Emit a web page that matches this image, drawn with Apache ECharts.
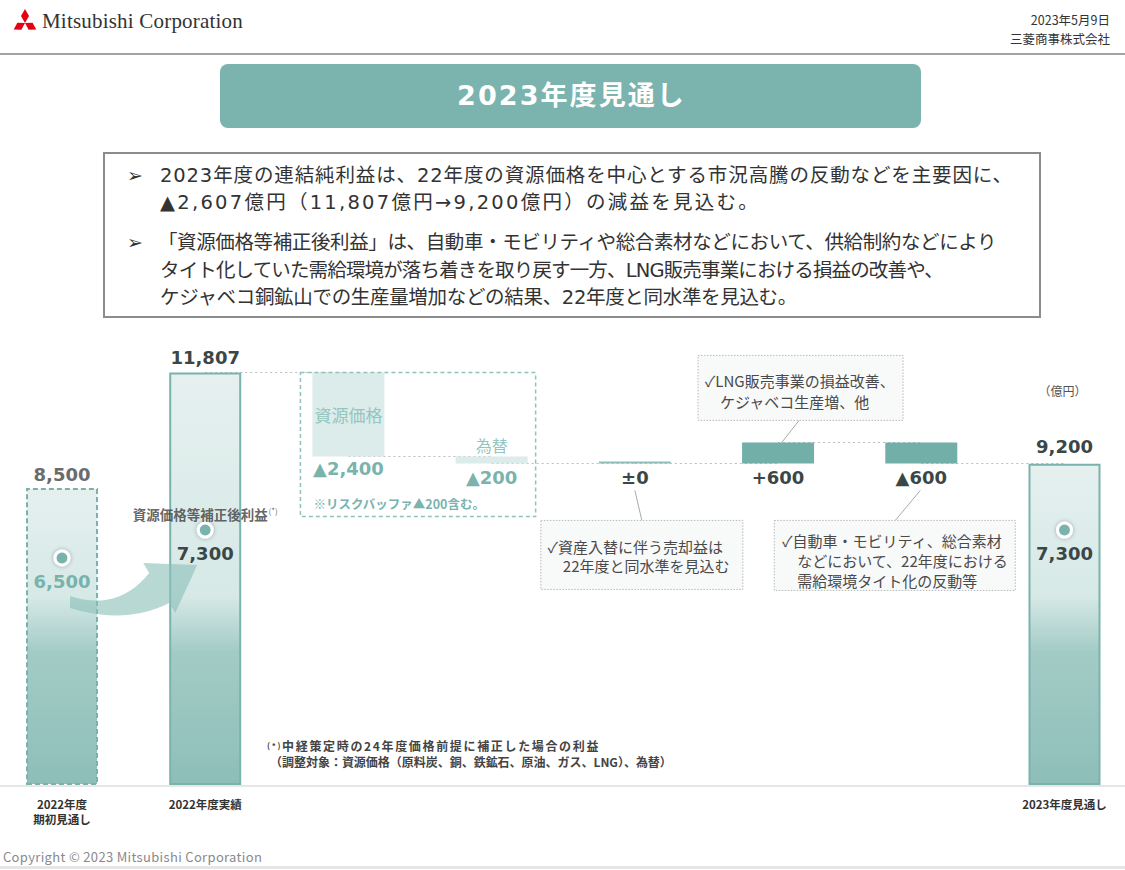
<!DOCTYPE html>
<html>
<head>
<meta charset="utf-8">
<script src="https://cdn.jsdelivr.net/npm/echarts@6/dist/echarts.min.js"></script>
<style>
  html, body { margin: 0; padding: 0; background: #fff; }
  body { width: 1125px; height: 870px; position: relative; overflow: hidden;
         font-family: "Noto Sans CJK JP", "DejaVu Sans", sans-serif; color: #333; }
  #main { position: absolute; left: 0; top: 0; width: 1125px; height: 870px; }
  .abs { position: absolute; white-space: nowrap; }
  .line { font-family: "DejaVu Sans", "Noto Sans CJK JP", sans-serif; font-size: 19.5px; line-height: 27px; color: #333; }
  .bullet { font-family: "DejaVu Sans", sans-serif; font-size: 19px; line-height: 27px; color: #333; }
</style>
</head>
<body>
<div id="main"></div>

<!-- header -->
<svg class="abs" style="left:0;top:0" width="40" height="40">
  <polygon points="25,9 29,16 25,23 21,16" fill="#e60012"/>
  <polygon points="25,23 21.4,29.7 13.7,29.5 17.4,22.8" fill="#e60012"/>
  <polygon points="25,23 28.6,29.7 36.3,29.5 32.6,22.8" fill="#e60012"/>
</svg>
<div class="abs" data-w="201" style="left:42px;top:9px;font-family:'Liberation Serif',serif;font-size:21px;color:#333">Mitsubishi Corporation</div>
<div class="abs" style="right:15px;top:10px;font-size:12.5px;line-height:19px;text-align:right;color:#333">2023年5月9日<br>三菱商事株式会社</div>
<div class="abs" style="left:0;top:53px;width:1125px;height:2px;background:#a3a3a3"></div>

<!-- title -->
<div class="abs" style="left:220px;top:64px;width:701px;height:64px;border-radius:8px;background:#7bb3ae"></div>
<div class="abs" data-w="229" style="left:457px;top:78px;font-family:'DejaVu Sans','Noto Sans CJK JP',sans-serif;font-size:27px;line-height:36px;font-weight:bold;color:#fff">2023年度見通し</div>

<!-- summary box -->
<div class="abs" style="left:103px;top:152px;width:934px;height:162px;border:2px solid #8c8c8c"></div>
<div class="abs bullet" style="left:127px;top:162px">➢</div>
<div class="abs line" data-w="853" style="left:160px;top:162px">2023年度の連結純利益は、22年度の資源価格を中心とする市況高騰の反動などを主要因に、</div>
<div class="abs line" data-w="600" style="left:160px;top:189px">▲2,607億円（11,807億円→9,200億円）の減益を見込む。</div>
<div class="abs bullet" style="left:127px;top:229px">➢</div>
<div class="abs line" data-w="838" style="left:158px;top:229px">「資源価格等補正後利益」は、自動車・モビリティや総合素材などにおいて、供給制約などにより</div>
<div class="abs line" data-w="783" style="left:160px;top:257px">タイト化していた需給環境が落ち着きを取り戻す一方、LNG販売事業における損益の改善や、</div>
<div class="abs line" data-w="637" style="left:160px;top:284px">ケジャベコ銅鉱山での生産量増加などの結果、22年度と同水準を見込む。</div>

<!-- footnote -->
<div class="abs" data-w="333" style="left:267px;top:738px;font-size:12px;line-height:16px;font-weight:bold;color:#444"><span style="font-size:8px;vertical-align:top">(*)</span>中経策定時の24年度価格前提に補正した場合の利益</div>
<div class="abs" data-w="402" style="left:270px;top:754px;font-size:12px;line-height:16px;font-weight:bold;color:#444">（調整対象：資源価格（原料炭、銅、鉄鉱石、原油、ガス、LNG）、為替）</div>

<!-- footer -->
<div class="abs" data-w="259" style="left:3px;top:848px;font-size:13px;line-height:18px;color:#8a8a8a">Copyright © 2023 Mitsubishi Corporation</div>
<div class="abs" style="left:0;top:866px;width:1125px;height:3px;background:#e6e6e6"></div>

<script>
// stretch html text lines to the widths measured on the slide
document.querySelectorAll('[data-w]').forEach(function (el) {
  var target = +el.getAttribute('data-w');
  var w = el.getBoundingClientRect().width;
  var n = el.textContent.length;
  el.style.letterSpacing = ((target - w) / n).toFixed(2) + 'px';
});

// Waterfall values (億円)
var categories = ['2022年度\n期初見通し', '2022年度実績', '資源価格', '為替', '資産入替', 'LNG・銅', '需給反動', '2023年度見通し'];
var axisTexts = ['2022年度\n期初見通し', '2022年度実績', '', '', '', '', '', '2023年度見通し'];
var initialForecast = 8500;
var actual2022 = 11807;
var deltas = [-2400, -200, 0, 600, -600];
var outlook2023 = 9200;
var adjustedProfit = [6500, 7300, '-', '-', '-', '-', '-', 7300];

var TEAL = '#7ab3ae';
var INK = '#3b4746';
var NUM_FONT = '"DejaVu Sans", sans-serif';
var JP_FONT = '"Noto Sans CJK JP", sans-serif';

// running levels for the floating bars
var baseData = [0, 0];
var barData = [initialForecast, actual2022];
var levels = [initialForecast, actual2022];
var level = actual2022;
deltas.forEach(function (d) {
  var next = level + d;
  baseData.push(Math.min(level, next));
  barData.push(Math.abs(d));
  levels.push(next);
  level = next;
});
baseData.push(0);
barData.push(outlook2023);
levels.push(outlook2023);

function fmt(v) { return v.toLocaleString('en-US'); }
function deltaText(d) { return d < 0 ? '▲' + fmt(-d) : (d > 0 ? '+' + fmt(d) : '±0'); }

function fillFor(v) {
  return {
    type: 'linear', x: 0, y: 0, x2: 0, y2: 1,
    colorStops: [
      { offset: 0, color: '#e5f0ef' },
      { offset: Math.max(0, (v - 5400) / v), color: '#d6e9e6' },
      { offset: (v - 3800) / v, color: '#a3cbc6' },
      { offset: 1, color: '#8ebeb8' }
    ]
  };
}

var totalLabel = { show: true, position: 'top', fontFamily: NUM_FONT, fontWeight: 'bold', fontSize: 18,
  formatter: function (p) { return fmt(p.value); } };

var barItems = barData.map(function (v, i) {
  if (i === 0) {
    return { value: v,
      itemStyle: { color: fillFor(v), borderColor: TEAL, borderWidth: 2, borderType: [5, 3] },
      label: Object.assign({}, totalLabel, { color: '#6b6b6b', distance: 5 }) };
  }
  if (i === 1 || i === barData.length - 1) {
    return { value: v,
      itemStyle: { color: fillFor(v), borderColor: TEAL, borderWidth: 2 },
      label: Object.assign({}, totalLabel, { color: INK, distance: i === 1 ? 6 : 8 }) };
  }
  if (i === 2) {
    return { value: v, itemStyle: { color: '#dcecea' },
      label: { show: true, position: 'inside', formatter: categories[i], color: '#94c5bf',
        fontFamily: JP_FONT, fontSize: 17 } };
  }
  if (i === 3) {
    return { value: v, itemStyle: { color: '#dcecea' },
      label: { show: true, position: 'top', distance: 3, formatter: categories[i], color: '#94c5bf',
        fontFamily: JP_FONT, fontSize: 16 } };
  }
  return { value: v, itemStyle: { color: i === 4 ? '#8cbfb9' : '#72afa8' } };
});

var baseItems = baseData.map(function (v, i) {
  var item = { value: v };
  if (i >= 2 && i < 2 + deltas.length) {
    item.label = { show: true, position: 'insideTop', distance: i === 2 ? 3 : 5,
      formatter: deltaText(deltas[i - 2]), fontFamily: NUM_FONT, fontWeight: 'bold', fontSize: 18,
      color: i < 4 ? TEAL : INK };
  }
  return item;
});

var connectors = [];
for (var i = 1; i < categories.length - 1; i++) {
  connectors.push([{ coord: [categories[i], levels[i]] }, { coord: [categories[i + 1], levels[i]] }]);
}

var dotItems = adjustedProfit.map(function (v, i) {
  if (v === '-') return '-';
  return { value: v, label: { color: i === 0 ? '#78b2ac' : INK } };
});

var chart = echarts.init(document.getElementById('main'), null, { renderer: 'svg' });

var option = {
  animation: false,
  grid: { left: 62, right: 60.5, top: 296, bottom: 85 },
  xAxis: {
    type: 'category', data: categories, boundaryGap: false,
    axisLine: { show: false }, axisTick: { show: false }, splitLine: { show: false },
    axisLabel: { interval: 0, margin: 11, fontFamily: JP_FONT, fontSize: 11.5, fontWeight: 'bold',
      color: '#333', lineHeight: 15,
      formatter: function (v, idx) { return axisTexts[idx]; } }
  },
  yAxis: { type: 'value', min: 0, max: 14000, show: false, splitLine: { show: false } },
  series: [
    { name: 'base', type: 'bar', stack: 'wf', barWidth: 72, z: 2,
      itemStyle: { color: 'transparent' }, data: baseItems },
    { name: 'value', type: 'bar', stack: 'wf', barWidth: 72, barMinHeight: 2, z: 2,
      data: barItems,
      markLine: { silent: true, symbol: 'none', z: 1, label: { show: false },
        lineStyle: { color: '#bdbdbd', type: [2, 3], width: 1 }, data: connectors } },
    { name: '資源価格等補正後利益', type: 'scatter', z: 5, symbolSize: 14, data: dotItems,
      itemStyle: { color: TEAL, borderColor: '#fff', borderWidth: 3, shadowBlur: 4,
        shadowColor: 'rgba(0,0,0,0.3)', opacity: 1 },
      label: { show: true, position: 'bottom', distance: 6, fontFamily: NUM_FONT, fontWeight: 'bold',
        fontSize: 18, formatter: function (p) { return fmt(p.value); } } },
    { name: 'tag', type: 'scatter', z: 5, symbolSize: 1, silent: true,
      itemStyle: { color: 'transparent' },
      data: adjustedProfit.map(function (v, i) { return i === 1 ? v : '-'; }),
      label: { show: true, position: 'top', distance: 8,
        formatter: '{a|資源価格等補正後利益}{b|(*)}',
        rich: { a: { fontFamily: JP_FONT, fontSize: 13.5, fontWeight: 'bold', color: '#3e3e3e' },
                b: { fontFamily: JP_FONT, fontSize: 8, color: '#3e3e3e', verticalAlign: 'top', padding: [0, 0, 7, 1] } } } }
  ]
};

chart.setOption(option);

function px(i, v) { return chart.convertToPixel({ gridIndex: 0 }, [i, v]); }

// curved arrow from the first dot towards the second bar
function quad(a, c, b, steps) {
  var out = [];
  for (var k = 0; k <= steps; k++) {
    var t = k / steps, u = 1 - t;
    out.push([u * u * a[0] + 2 * u * t * c[0] + t * t * b[0], u * u * a[1] + 2 * u * t * c[1] + t * t * b[1]]);
  }
  return out;
}
var p0 = px(0, adjustedProfit[0]), p1 = px(1, adjustedProfit[1]);
var arrowPts = quad([p0[0] + 8, p0[1] + 38], [p0[0] + 56, p0[1] + 54], [p1[0] - 56, p1[1] + 43], 14)
  .concat([[p1[0] - 62, p1[1] + 33], [p1[0] - 8, p1[1] + 35], [p1[0] - 30, p1[1] + 83]])
  .concat(quad([p1[0] - 36, p1[1] + 73], [p0[0] + 63, p0[1] + 67], [p0[0] + 8, p0[1] + 50], 14));

var topY = px(2, actual2022)[1];
var bx0 = px(2, 0)[0] - 48, bx1 = px(3, 0)[0] + 44;
var ly = px(4, levels[4])[1];
var x4 = px(4, 0)[0], x5 = px(5, 0)[0], x6 = px(6, 0)[0], x7 = px(7, 0)[0];
var baseY = px(0, 0)[1];

var noteBox = { fill: '#f8f9f9', stroke: '#b8b8b8', lineWidth: 1, lineDash: [1.5, 1.5] };
var noteFont = '15px "Noto Sans CJK JP", "DejaVu Sans", sans-serif';
var leader = { stroke: '#aaaaaa', lineWidth: 1 };

chart.setOption({
  graphic: [
    { type: 'line', z: 0, shape: { x1: 0, y1: baseY + 1, x2: 1125, y2: baseY + 1 },
      style: { stroke: '#e6e6e6', lineWidth: 2 } },
    { type: 'polygon', z: 10, shape: { points: arrowPts }, style: { fill: 'rgba(140,192,186,0.62)' } },
    { type: 'rect', z: 3, shape: { x: bx0, y: topY, width: bx1 - bx0, height: 144 },
      style: { fill: 'none', stroke: '#8fc2bc', lineWidth: 1.5, lineDash: [4, 3] } },
    { type: 'text', z: 3, x: bx0 + 13, y: topY + 125,
      style: { text: '※リスクバッファ▲200含む。', fill: TEAL, font: 'bold 12.5px "Noto Sans CJK JP", sans-serif' } },

    { type: 'line', z: 3, shape: { x1: x4, y1: ly + 27, x2: x4 + 7, y2: ly + 57 }, style: leader },
    { type: 'rect', z: 3, shape: { x: x4 - 94, y: ly + 57, width: 202, height: 69 }, style: noteBox },
    { type: 'text', z: 4, x: x4 - 87, y: ly + 74,
      style: { text: '✓資産入替に伴う売却益は\n　22年度と同水準を見込む', lineHeight: 19, fill: '#4a4a4a', font: noteFont } },

    { type: 'line', z: 3, shape: { x1: x5 + 3, y1: ly - 20, x2: x5 + 21, y2: ly - 43 }, style: leader },
    { type: 'rect', z: 3, shape: { x: x5 - 80, y: ly - 108, width: 205, height: 65 }, style: noteBox },
    { type: 'text', z: 4, x: x5 - 73, y: ly - 93,
      style: { text: '✓LNG販売事業の損益改善、\n　ケジャベコ生産増、他', lineHeight: 21, fill: '#4a4a4a', font: noteFont } },

    { type: 'line', z: 3, shape: { x1: x6 - 1, y1: ly + 27, x2: x6 - 26, y2: ly + 57 }, style: leader },
    { type: 'rect', z: 3, shape: { x: x6 - 147, y: ly + 57, width: 241, height: 70 }, style: noteBox },
    { type: 'text', z: 4, x: x6 - 139, y: ly + 67,
      style: { text: '✓自動車・モビリティ、総合素材\n　などにおいて、22年度における\n　需給環境タイト化の反動等', lineHeight: 20, fill: '#4a4a4a', font: noteFont } },

    { type: 'text', z: 3, x: x7 - 26, y: ly - 79,
      style: { text: '（億円）', fill: '#555', font: '12px "Noto Sans CJK JP", sans-serif' } }
  ]
});
</script>
</body>
</html>
